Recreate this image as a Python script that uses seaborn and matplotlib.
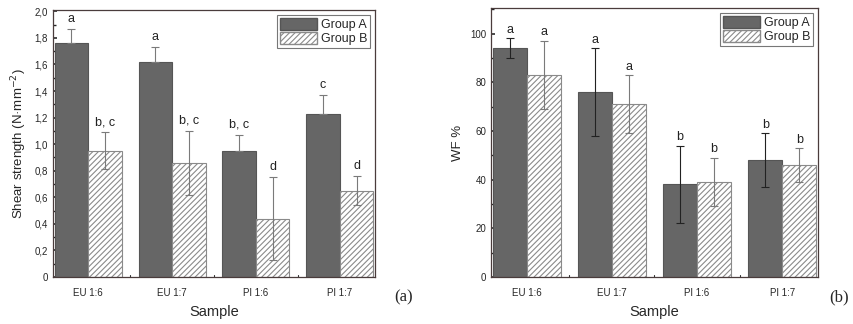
import matplotlib
matplotlib.use("Agg")
import matplotlib.pyplot as plt
import matplotlib.patches as mpatches
from matplotlib.ticker import FuncFormatter, AutoMinorLocator
import pandas as pd
import seaborn as sns

samples = ["EU 1:6", "EU 1:7", "PI 1:6", "PI 1:7"]
groups = ["Group A", "Group B"]

shear_a = [1.76, 1.62, 0.95, 1.23]
shear_b = [0.95, 0.86, 0.44, 0.65]
shear_err_a = [0.11, 0.11, 0.12, 0.14]
shear_err_b = [0.14, 0.24, 0.31, 0.11]
shear_letters_a = ["a", "a", "b, c", "c"]
shear_letters_b = ["b, c", "b, c", "d", "d"]

wf_a = [94, 76, 38, 48]
wf_b = [83, 71, 39, 46]
wf_err_a = [4, 18, 16, 11]
wf_err_b = [14, 12, 10, 7]
wf_letters_a = ["a", "a", "b", "b"]
wf_letters_b = ["a", "a", "b", "b"]

sns.set_theme(style="ticks")
plt.rcParams["font.family"] = ["Liberation Sans", "DejaVu Sans"]
plt.rcParams["hatch.color"] = "#8a8a8a"
plt.rcParams["hatch.linewidth"] = 0.8

DARK = "#666666"
FRAME = "#4a3c3c"


def panel(ax, vals_a, vals_b, err_a, err_b, let_a, let_b, ylim, yticks, fmt,
          ylabel, tag, tag_x, lower_a, ecol_a, pad):
    df = pd.DataFrame({
        "Sample": samples * 2,
        "Group": [groups[0]] * 4 + [groups[1]] * 4,
        "Value": list(vals_a) + list(vals_b),
    })
    sns.barplot(data=df, x="Sample", y="Value", hue="Group", order=samples,
                hue_order=groups, palette=[DARK, "white"], errorbar=None,
                width=0.8, saturation=1, ax=ax, legend=False)
    cont_a, cont_b = ax.containers[0], ax.containers[1]
    for p in cont_a:
        p.set_edgecolor("#555555")
        p.set_linewidth(0.8)
    for p in cont_b:
        p.set_hatch("//////")
        p.set_edgecolor("#8a8a8a")
        p.set_linewidth(0.8)

    for cont, vals, errs, letters, ecol, low in (
            (cont_a, vals_a, err_a, let_a, ecol_a, lower_a),
            (cont_b, vals_b, err_b, let_b, "#7a7a7a", True)):
        xs = [p.get_x() + p.get_width() / 2 for p in cont]
        lo = errs if low else [0] * len(errs)
        ax.errorbar(xs, vals, yerr=[lo, errs], fmt="none", ecolor=ecol,
                    elinewidth=0.8, capsize=3, capthick=0.8, zorder=3)
        for x, v, e, t in zip(xs, vals, errs, letters):
            ax.text(x, v + e + pad, t, ha="center", va="bottom", fontsize=9,
                    color="#222222")

    ax.set_xlim(-0.42, 3.42)
    ax.set_ylim(*ylim)
    ax.set_yticks(yticks)
    ax.yaxis.set_major_formatter(FuncFormatter(fmt))
    ax.yaxis.set_minor_locator(AutoMinorLocator(2))
    ax.set_xticks(range(len(samples)))
    ax.set_xticklabels(samples)
    ax.tick_params(axis="both", which="major", direction="in", length=3,
                   labelsize=7, color="#333333")
    ax.tick_params(axis="y", which="minor", direction="in", length=2)
    ax.tick_params(axis="x", length=0, pad=8)
    for x in [0.5, 1.5, 2.5]:
        ax.plot([x, x], [0, ylim[1] * 0.008], color="#333333", lw=0.8,
                transform=ax.transData, clip_on=False)
    for s in ax.spines.values():
        s.set_visible(True)
        s.set_color(FRAME)
        s.set_linewidth(0.9)
    ax.set_xlabel("Sample", fontsize=10.5, labelpad=5)
    ax.set_ylabel(ylabel, fontsize=9.5, labelpad=4)

    handles = [mpatches.Patch(facecolor=DARK, edgecolor="#555555", label=groups[0]),
               mpatches.Patch(facecolor="white", edgecolor="#8a8a8a", hatch="//////",
                              label=groups[1])]
    leg = ax.legend(handles=handles, loc="upper right", fontsize=9,
                    frameon=True, fancybox=False, edgecolor="#555555",
                    borderpad=0.2, handlelength=3.0, handleheight=1.1,
                    handletextpad=0.3, labelspacing=0.1, borderaxespad=0.4)
    leg.get_frame().set_linewidth(0.8)
    ax.text(tag_x, -0.075, tag, transform=ax.transAxes, fontsize=12,
            family="Liberation Serif", ha="center", va="center")


fig = plt.figure(figsize=(8.54, 3.24), dpi=100)
ax1 = fig.add_axes([53 / 854, 47 / 324, 322 / 854, 267 / 324])
ax2 = fig.add_axes([491 / 854, 47 / 324, 327 / 854, 269 / 324])

panel(ax1, shear_a, shear_b, shear_err_a, shear_err_b, shear_letters_a,
      shear_letters_b, (0, 2.01), [0, 0.2, 0.4, 0.6, 0.8, 1.0, 1.2, 1.4, 1.6, 1.8, 2.0],
      lambda v, _: "0" if v == 0 else f"{v:.1f}".replace(".", ","),
      "Shear strength (N·mm$^{-2}$)", "(a)", 1.09, False, "#7a7a7a", 0.03)
panel(ax2, wf_a, wf_b, wf_err_a, wf_err_b, wf_letters_a, wf_letters_b,
      (0, 110.5), [0, 20, 40, 60, 80, 100],
      lambda v, _: f"{v:.0f}",
      "WF %", "(b)", 1.065, True, "#222222", 1.0)

fig.savefig("out.png", dpi=100)
